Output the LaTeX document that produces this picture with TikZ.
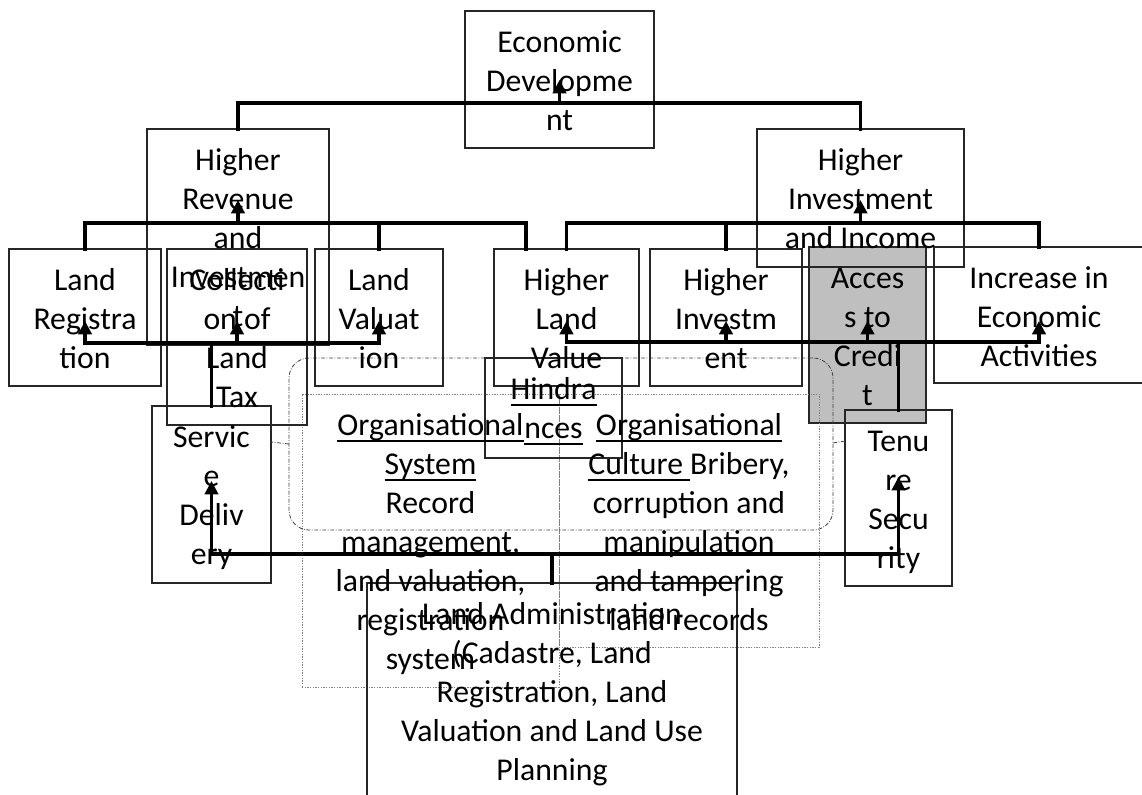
\documentclass[tikz,border=0pt]{standalone}
\usepackage{fontspec}
\IfFontExistsTF{Carlito-Regular.ttf}{\setmainfont{Carlito-Regular.ttf}}{\setmainfont{Carlito}}
\usetikzlibrary{arrows.meta,calc,fit}
\definecolor{creditfill}{HTML}{BFBFBF}
\newsavebox\ulbox
% underlined word with a rule at a fixed depth
\newcommand\ulw[1]{\sbox\ulbox{#1}\rlap{\rule[-5.2pt]{\wd\ulbox}{1.5pt}}\usebox\ulbox}
\newcommand\bodyfont{\fontsize{23.8pt}{29.2pt}\selectfont}

\begin{document}
\begin{tikzpicture}[x=0.75pt,y=-0.75pt,
  box/.style={draw=black!85,line width=1pt,inner sep=0pt,outer sep=0pt},
  textframe/.style={draw=black!50,line width=0.6pt,dash pattern=on 1pt off 1pt,inner sep=0pt,outer sep=0pt},
  zone/.style={draw=black!75,line width=0.6pt,dash pattern=on 3pt off 1.2pt on 0.6pt off 1.2pt},
  lbl/.style={anchor=north,inner sep=0pt,align=center,font=\bodyfont},
  conn/.style={line width=2.3pt,line join=miter,line cap=rect},
  arr/.style={line width=2.3pt,-{Triangle[length=10pt,width=10pt]}}]
\useasboundingbox (0,0) rectangle (1142,794);

% shaded box sits underneath everything else
\node[box,fill=creditfill,fit={(809,247) (926,423)}] (acc) {};

% frames of the two hindrance notes and the rounded callout
\node[textframe,fit={(302,394) (559,687)}] (orgsys) {};
\node[textframe,fit={(559,394) (819,647)}] (orgcult) {};
\node[zone,rounded corners=15pt,inner sep=0pt,fit={(289,358) (833,530)}] (hzone) {};

% boxes
\node[box,fit={(465,11) (654,148)}] (econ) {};
\node[box,fit={(147,129) (329,345)}] (hrev) {};
\node[box,fit={(757,129) (964,267)}] (hinv) {};
\node[box,fit={(9,249) (161,386)}] (lreg) {};
\node[box,fit={(167,249) (307,425)}] (coll) {};
\node[box,fit={(315,249) (443,386)}] (lval) {};
\node[box,fit={(494,249) (639,386)}] (hlv) {};
\node[box,fit={(650,249) (802,386)}] (hinvm) {};
\node[box,fit={(934,247) (1144,383)}] (incr) {};
\node[box,fit={(152,406) (271,583)}] (serv) {};
\node[box,fit={(845,410) (952,586)}] (ten) {};
\node[box,fit={(485,358) (622,458)}] (hind) {};
\node[box,fit={(367,583) (737,800)}] (ladm) {};

% callout pointers
\coordinate (zoneL) at (289,444);
\coordinate (zoneR) at (833,443);
\coordinate (servP) at (271,442);
\coordinate (tenP) at (845,441);
\draw[zone] (zoneL) -- (servP);
\draw[zone] (zoneR) -- (tenP);

% labels
\node[lbl] (econ-t) at ($(econ.north)+(0,14)$) {\strut Economic\\Developme\\nt};
\node[lbl] (hrev-t) at ($(hrev.north)+(0,14)$) {\strut Higher\\Revenue\\and\\Investmen\\t};
\node[lbl] (hinv-t) at ($(hinv.north)+(0,14)$) {\strut Higher\\Investment\\and Income};
\node[lbl] (lreg-t) at ($(lreg.north)+(0,14)$) {\strut Land\\Registra\\tion};
\node[lbl] (coll-t) at ($(coll.north)+(0,14)$) {\strut Collecti\\on of\\Land\\Tax};
\node[lbl] (lval-t) at ($(lval.north)+(0,14)$) {\strut Land\\Valuat\\ion};
\node[lbl] (hlv-t) at ($(hlv.north)+(0,14)$) {\strut Higher\\Land\\Value};
\node[lbl] (hinvm-t) at ($(hinvm.north)+(0,14)$) {\strut Higher\\Investm\\ent};
\node[lbl] (acc-t) at ($(acc.north)+(0,14)$) {\strut Acces\\s to\\Credi\\t};
\node[lbl] (incr-t) at ($(incr.north)+(0,14)$) {\strut Increase in\\Economic\\Activities};
\node[lbl] (serv-t) at ($(serv.north)+(0,14)$) {\strut Servic\\e\\Deliv\\ery};
\node[lbl] (ten-t) at ($(ten.north)+(0,14)$) {\strut Tenu\\re\\Secu\\rity};
\node[lbl] (hind-t) at ($(hind.north)+(0,14)$) {\strut\ulw{Hindra}\\\ulw{nces}};
\node[lbl] (orgsys-t) at ($(orgsys.north)+(0,14)$) {\strut\ulw{Organisational}\\\ulw{System}\\Record\\management,\\land valuation,\\registration\\system};
\node[lbl] (orgcult-t) at ($(orgcult.north)+(0,14)$) {\strut\ulw{Organisational}\\\ulw{Culture }Bribery,\\corruption and\\manipulation\\and tampering\\land records};
\node[lbl] (ladm-t) at ($(ladm.north)+(0,14)$) {\strut Land Administration\\(Cadastre, Land\\Registration, Land\\Valuation and Land Use\\Planning};

% bus levels and arrow tip levels
\coordinate (busE) at (0,103);
\coordinate (busR) at (0,223);
\coordinate (busS) at (0,343);
\coordinate (busT) at (0,342);
\coordinate (busL) at (0,554);
\coordinate (tipE) at (0,80);
\coordinate (tipR) at (0,200);
\coordinate (tipM) at (0,321);
\coordinate (tipS) at (0,481);
\coordinate (tipT) at (0,477);
\coordinate (hlvL) at (526,249);

% to economic development
\draw[conn] (hrev.north) -- (hrev.north |- busE) -- (hinv.north |- busE) -- (hinv.north);
\draw[arr] (econ.center |- busE) -- (econ.center |- tipE);

% to higher revenue
\draw[conn] (lreg.north) -- (lreg.north |- busR) -- (hlvL |- busR) -- (hlvL);
\draw[conn] (lval.north) -- (lval.north |- busR);
\draw[arr] (hrev.center |- busR) -- (hrev.center |- tipR);

% to higher investment and income
\draw[conn] (hlv.north) -- (hlv.north |- busR) -- (incr.north |- busR) -- (incr.north);
\draw[conn] (hinvm.north) -- (hinvm.north |- busR);
\draw[arr] (hinv.center |- busR) -- (hinv.center |- tipR);

% from service delivery
\draw[conn] (serv.north) -- (serv.north |- busS);
\draw[conn] (lreg.center |- busS) -- (lval.center |- busS);
\foreach \b in {lreg,coll,lval}
  \draw[arr] (\b.center |- busS) -- (\b.center |- tipM);

% from tenure security
\draw[conn] (ten.north) -- (ten.north |- busT);
\draw[conn] (hlv.center |- busT) -- (incr.center |- busT);
\foreach \b in {hlv,hinvm,acc,incr}
  \draw[arr] (\b.center |- busT) -- (\b.center |- tipM);

% from land administration
\draw[conn] (ladm.north) -- (ladm.north |- busL);
\draw[conn] (serv.center |- busL) -- (ten.center |- busL);
\draw[arr] (serv.center |- busL) -- (serv.center |- tipS);
\draw[arr] (ten.center |- busL) -- (ten.center |- tipT);
\end{tikzpicture}
\end{document}
